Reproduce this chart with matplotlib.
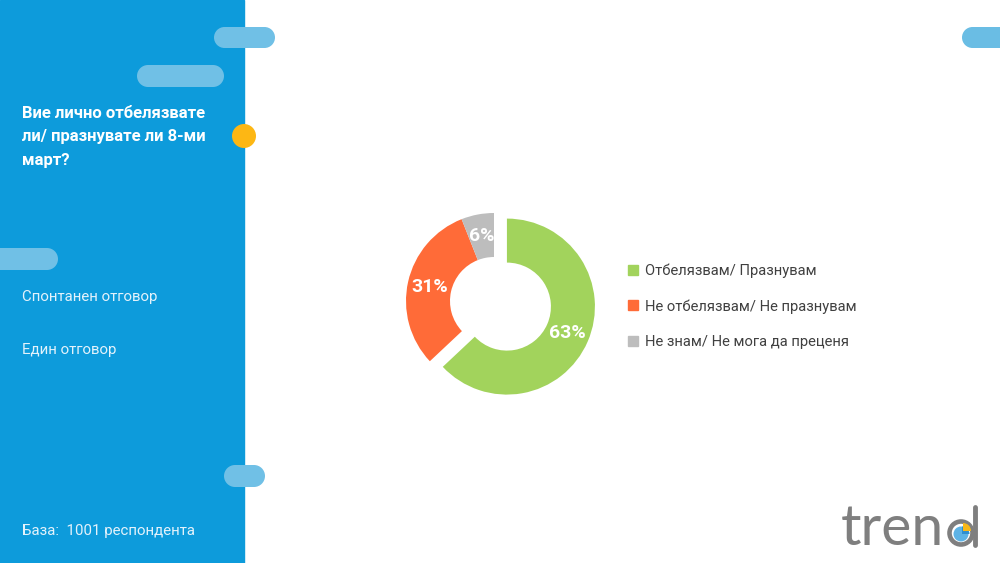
import matplotlib
matplotlib.use("Agg")
import matplotlib.pyplot as plt
from matplotlib.patches import Circle, Rectangle, Wedge
from matplotlib.lines import Line2D

# ---- data ----
categories = ["Отбелязвам/ Празнувам", "Не отбелязвам/ Не празнувам", "Не знам/ Не мога да преценя"]
values = [63, 31, 6]
colors = ["#A2D35C", "#FF6B38", "#BDBDBD"]
title_lines = ["Вие лично отбелязвате", "ли/ празнувате ли 8-ми", "март?"]
note1 = "Спонтанен отговор"
note2 = "Един отговор"
base_text = "База:  1001 респондента"

FONT = ["Roboto", "DejaVu Sans"]
plt.rcParams["font.family"] = FONT

W, H = 1000, 563
fig = plt.figure(figsize=(W / 100, H / 100), dpi=100)
fig.patch.set_facecolor("white")

# background axes in pixel coordinates
bg = fig.add_axes([0, 0, 1, 1])
bg.set_xlim(0, W)
bg.set_ylim(H, 0)
bg.axis("off")

PANEL = "#0D9BDB"
PILL = "#70C0E6"
bg.add_patch(Rectangle((0, 0), 244, H, color=PANEL, zorder=1))

def pill(x0, y0, x1, y1, color=PILL):
    h = y1 - y0
    bg.add_patch(Circle((x0 + h / 2, y0 + h / 2), h / 2, color=color, zorder=2, lw=0))
    bg.add_patch(Circle((x1 - h / 2, y0 + h / 2), h / 2, color=color, zorder=2, lw=0))
    bg.add_patch(Rectangle((x0 + h / 2, y0), (x1 - x0) - h, h, color=color, zorder=2, lw=0))

pill(214, 27, 275, 48)
pill(137, 65, 224, 87)
pill(-20, 248, 58, 270)
pill(224, 465, 265, 487)
pill(962, 27, 1030, 48, color="#6ABDE4")
bg.add_patch(Circle((244, 136), 12, color="#FDB714", zorder=3, lw=0))

for i, line in enumerate(title_lines):
    bg.text(22, 114 + i * 23, line, color="white", fontsize=12, fontweight="bold",
            va="center", ha="left", zorder=4)
bg.text(22, 297, note1, color="#E3F2FB", fontsize=10.8, va="center", ha="left", zorder=4)
bg.text(22, 350, note2, color="#E3F2FB", fontsize=10.8, va="center", ha="left", zorder=4)
bg.text(22, 531, base_text, color="#E3F2FB", fontsize=10.8, va="center", ha="left", zorder=4)

# logo "trend" with pie in the d
LOGO = "#7F7F7F"
bg.text(841, 545, "tren", color=LOGO, fontsize=41, va="baseline", ha="left",
        family=["Lato", "DejaVu Sans"], zorder=4)
bg.add_patch(Circle((961, 533), 11.5, fill=False, edgecolor=LOGO, lw=3.3, zorder=4))
bg.plot([975, 975], [507, 545], color=LOGO, lw=3.5, solid_capstyle="round", zorder=4)
bg.add_patch(Circle((961, 534), 7.5, color="#5DB3E6", lw=0, zorder=5))
bg.add_patch(Wedge((962, 534), 7.5, -90, 0, color="#2F8FD0", lw=0, zorder=5))
bg.add_patch(Wedge((963, 531), 8, 270, 360, color="#F9B817", lw=0, zorder=6))

# ---- donut ----
R_PX = 88
cx, cy = 494, 301
half = 1.3
size = 2 * half * R_PX
ax = fig.add_axes([(cx - size / 2) / W, (H - cy - size / 2) / H, size / W, size / H])
wedges, texts, autotexts = ax.pie(values, colors=colors, startangle=90, counterclock=False,
                                  explode=[0.16, 0, 0], radius=1,
                                  wedgeprops=dict(width=0.5, linewidth=0),
                                  autopct=lambda p: f"{p:.0f}%", pctdistance=0.75,
                                  textprops=dict(color="white", fontsize=14, fontweight="bold"))
ax.set_xlim(-half, half)
ax.set_ylim(-half, half)
ax.set_aspect("equal")
ax.axis("off")

handles = [Line2D([0], [0], marker="s", linestyle="none", markersize=7,
                  markerfacecolor=c, markeredgecolor=c) for c in colors]
fig.legend(handles, categories, loc="center left",
           bbox_to_anchor=(620 / W, 1 - 306 / H), frameon=False, fontsize=10.6,
           labelcolor="#404040", handlelength=0.8, handletextpad=0.4,
           labelspacing=1.45, borderpad=0)

fig.savefig("out.png", dpi=100)
